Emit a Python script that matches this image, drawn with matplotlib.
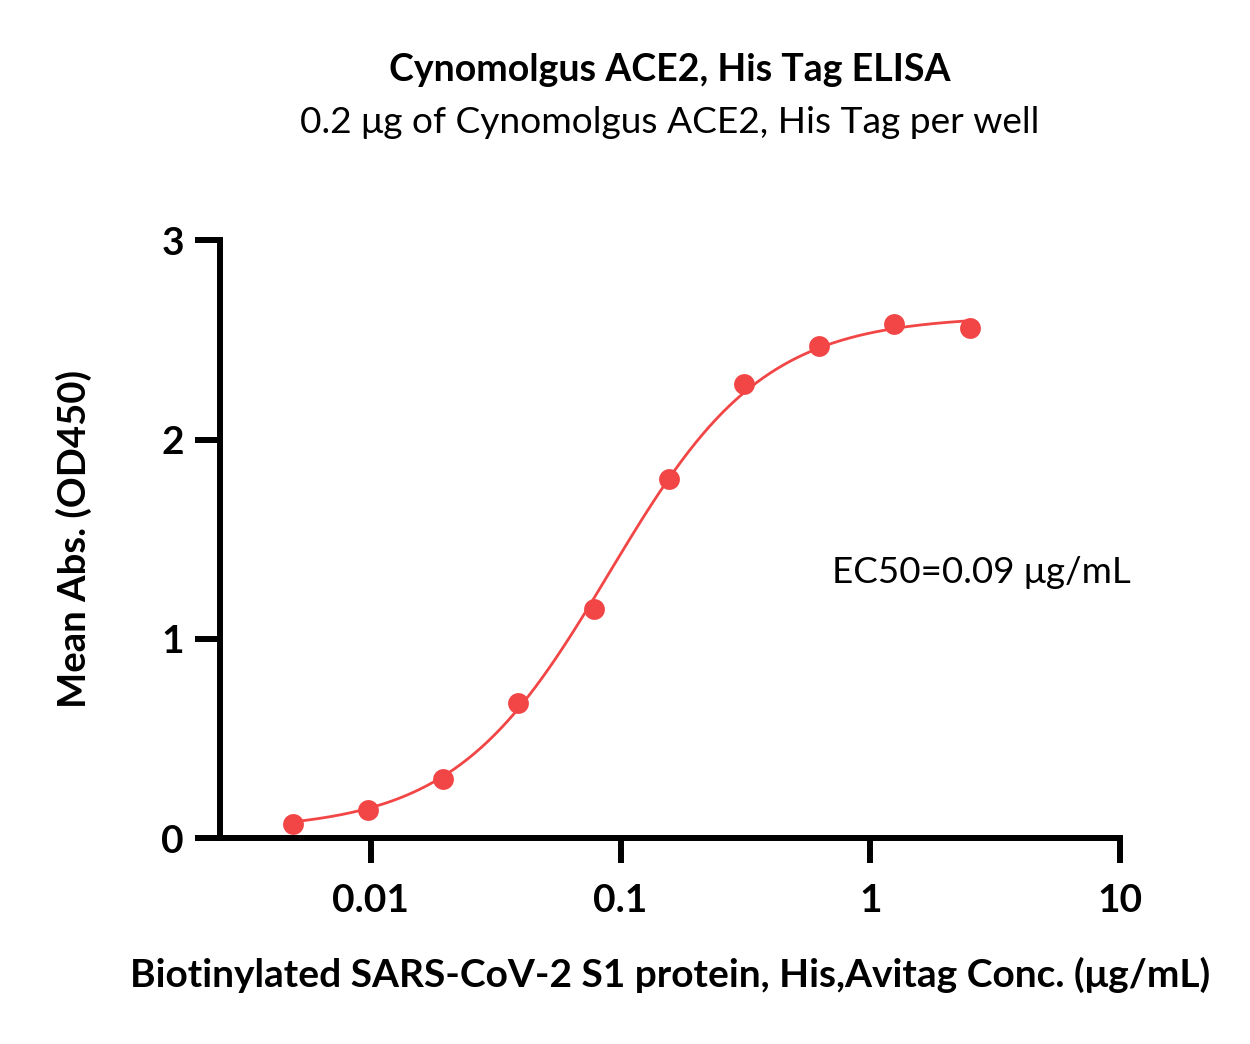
import numpy as np
import matplotlib.pyplot as plt

plt.rcParams['font.family'] = ['Lato', 'DejaVu Sans']

conc = [0.00488, 0.00977, 0.0195, 0.039, 0.078, 0.156, 0.3125, 0.625, 1.25, 2.5]
od450 = [0.07, 0.14, 0.30, 0.68, 1.15, 1.80, 2.28, 2.47, 2.58, 2.56]

# 4PL fit parameters
bottom, top, ec50, hill = 0.04, 2.62, 0.09, 1.4

red = '#F24545'

fig = plt.figure(figsize=(12.5, 10.44), dpi=100)
ax = fig.add_axes([0.176, 0.197, 0.72, 0.573])

xs = np.logspace(np.log10(conc[0]), np.log10(conc[-1]), 300)
ys = bottom + (top - bottom) / (1 + (ec50 / xs) ** hill)
ax.plot(xs, ys, color=red, lw=2)
ax.plot(conc, od450, 'o', color=red, ms=15, mec='none')

ax.set_xscale('log')
ax.set_xlim(0.00249, 10)
ax.set_ylim(0, 3)
ax.set_xticks([0.01, 0.1, 1, 10])
ax.set_xticklabels(['0.01', '0.1', '1', '10'])
ax.minorticks_off()
ax.set_yticks([0, 1, 2, 3])

for s in ['top', 'right']:
    ax.spines[s].set_visible(False)
for s in ['left', 'bottom']:
    ax.spines[s].set_linewidth(4.3)
ax.tick_params(width=4.3, length=18, labelsize=28, pad=8)
ax.tick_params(axis='x', pad=14)
for lab in ax.get_xticklabels() + ax.get_yticklabels():
    lab.set_fontweight('bold')

ax.set_xlabel('Biotinylated SARS-CoV-2 S1 protein, His,Avitag Conc. (μg/mL)',
              fontsize=28, fontweight='bold', labelpad=28)
ax.set_ylabel('Mean Abs. (OD450)', fontsize=27.5, fontweight='bold', labelpad=50)

ax.text(0.7, 1.28, 'EC50=0.09 μg/mL', fontsize=26.5)

fig.text(0.536, 0.922, 'Cynomolgus ACE2, His Tag ELISA', ha='center',
         fontsize=27, fontweight='bold')
fig.text(0.536, 0.873, '0.2 μg of Cynomolgus ACE2, His Tag per well', ha='center',
         fontsize=26.7)

fig.savefig('out.png')
